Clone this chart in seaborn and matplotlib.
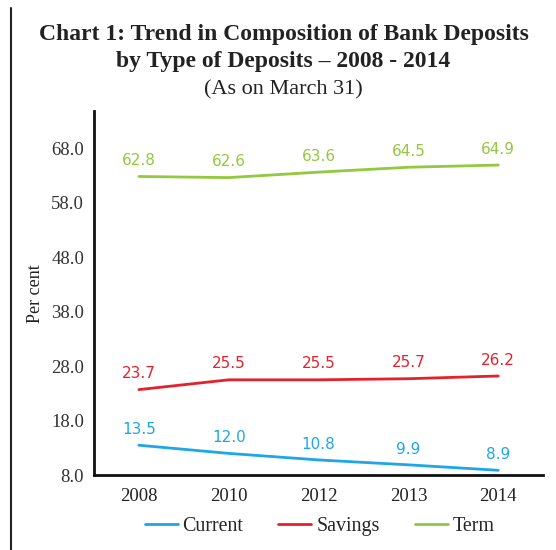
import numpy as np
import pandas as pd
import seaborn as sns
import matplotlib.pyplot as plt
from matplotlib.lines import Line2D

years = ['2008', '2010', '2012', '2013', '2014']
current = [13.5, 12.0, 10.8, 9.9, 8.9]
savings = [23.7, 25.5, 25.5, 25.7, 26.2]
term = [62.8, 62.6, 63.6, 64.5, 64.9]
series_names = ['Current', 'Savings', 'Term']
colors = ['#1ea6e6', '#e5212b', '#93c83f']

pos = np.arange(len(years)) + 0.5
df = pd.DataFrame({
    'x': np.tile(pos, 3),
    'value': current + savings + term,
    'series': np.repeat(series_names, len(years)),
})

sns.set_style('white')
plt.rcParams['font.family'] = ['Liberation Serif', 'DejaVu Serif']

fig = plt.figure(figsize=(5.56, 5.5), dpi=100)
ax = fig.add_axes([0.169, 0.136, 0.808, 0.662])

sns.lineplot(data=df, x='x', y='value', hue='series', palette=colors,
             linewidth=2, ax=ax, legend=False)

# data labels
for name, vals, c in zip(series_names, [current, savings, term], colors):
    for x, v in zip(pos, vals):
        ax.annotate(f'{v:.1f}', (x, v), xytext=(0, 6), textcoords='offset points',
                    ha='center', va='bottom', color=c, fontsize=11,
                    family='DejaVu Sans')

ax.set_xlim(0, len(years))
ax.set_ylim(8, 74.8)
ax.set_yticks(np.arange(8, 69, 10))
ax.set_yticklabels([f'{t:.1f}' for t in np.arange(8, 69, 10)], fontsize=13.5, color='#333333')
ax.set_xticks(np.arange(0, len(years) + 1))
ax.set_xticklabels([])
ax.set_xticks(pos, minor=True)
ax.set_xticklabels(years, minor=True, fontsize=13.5, color='#222222')
ax.tick_params(axis='x', which='major', length=4, width=1, direction='inout', color='#555555')
ax.tick_params(axis='x', which='minor', length=0, pad=9)
ax.tick_params(axis='y', length=4, width=1, color='#555555', pad=3)
ax.set_xlabel('')
ax.set_ylabel('Per cent', fontsize=13, color='#222222', labelpad=5)

for s in ['top', 'right']:
    ax.spines[s].set_visible(False)
for s in ['left', 'bottom']:
    ax.spines[s].set_color('#111111')
    ax.spines[s].set_linewidth(2)

handles = [Line2D([], [], color=c, lw=2) for c in colors]
fig.legend(handles, series_names, loc='center', bbox_to_anchor=(0.575, 0.042),
           ncol=3, frameon=False, fontsize=14.4, handlelength=1.65,
           handletextpad=0.25, columnspacing=1.75)

fig.text(0.51, 0.937, 'Chart 1: Trend in Composition of Bank Deposits',
         ha='center', va='center', fontsize=17, fontweight='bold', color='#222222')
fig.text(0.51, 0.889, 'by Type of Deposits – 2008 - 2014',
         ha='center', va='center', fontsize=17, fontweight='bold', color='#222222')
fig.text(0.51, 0.837, '(As on March 31)',
         ha='center', va='center', fontsize=16, color='#222222')

fig.add_artist(Line2D([0.019, 0.019], [0.0, 0.985], color='#222222', lw=1.5,
                      transform=fig.transFigure))

fig.savefig('out.png', dpi=100)
